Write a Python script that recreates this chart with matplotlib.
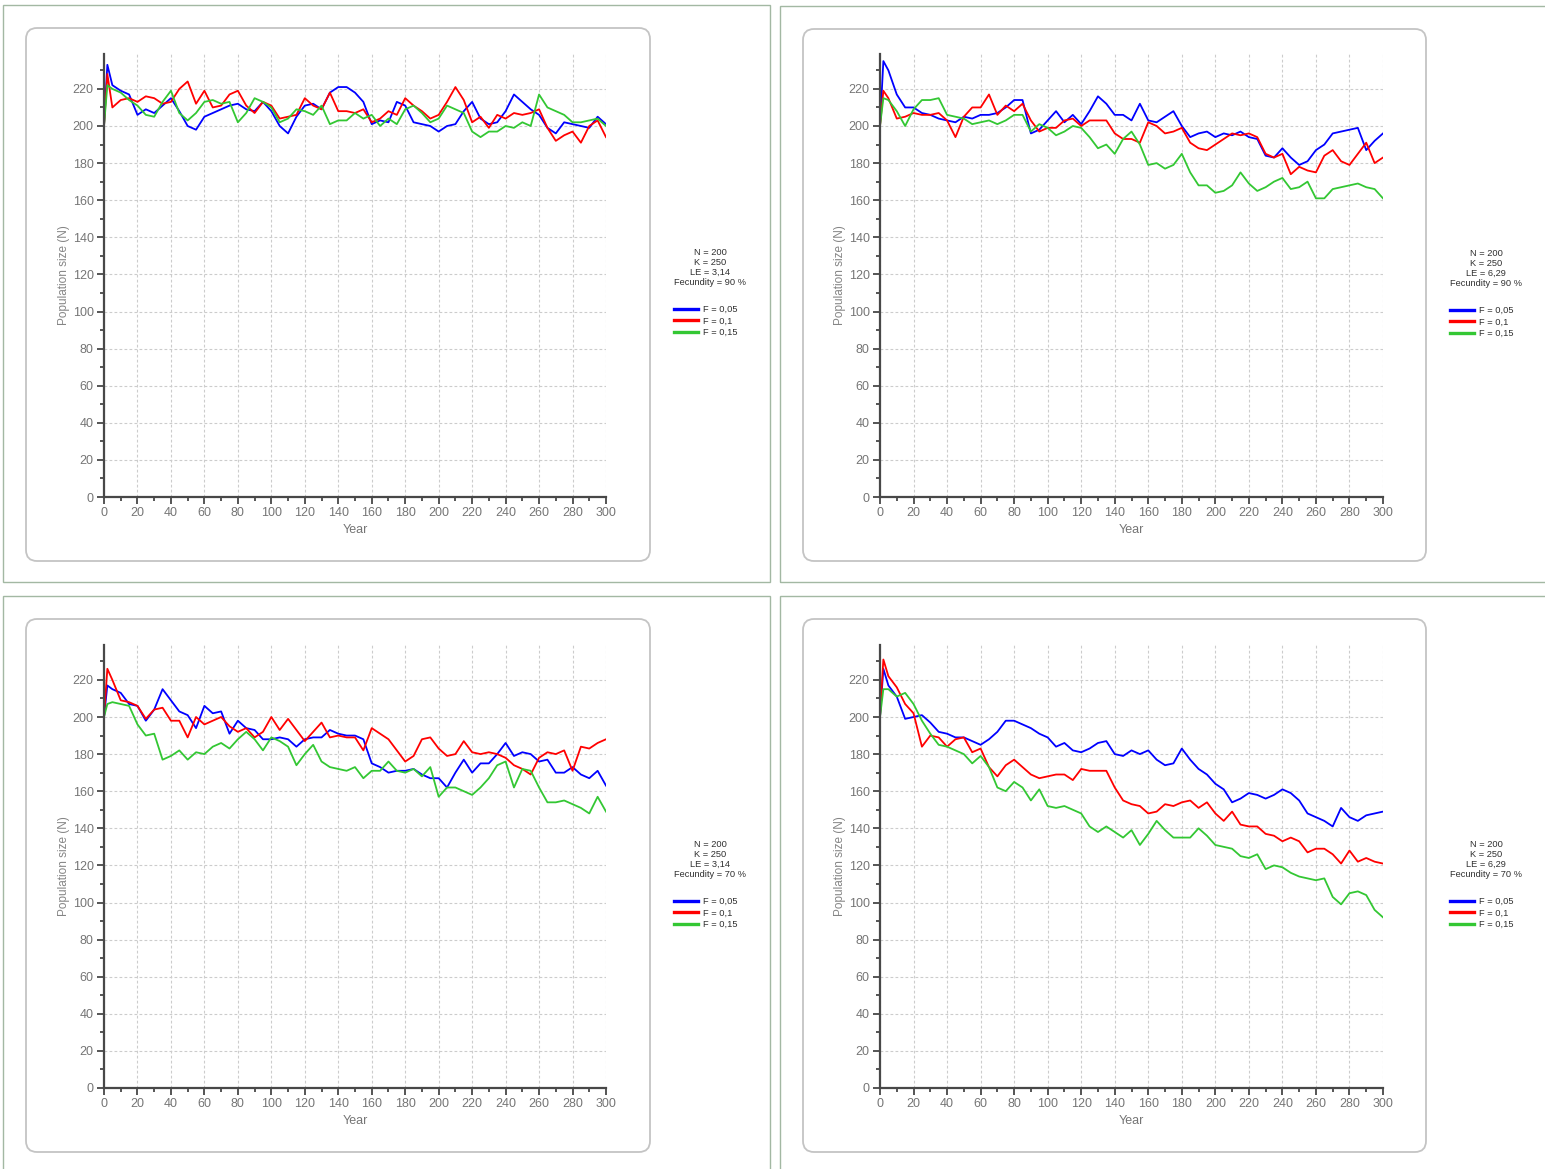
import matplotlib.pyplot as plt
from matplotlib.patches import Rectangle, FancyBboxPatch

plt.rcParams['font.family'] = ['Liberation Sans', 'DejaVu Sans']

years = [0, 2] + list(range(5, 305, 5))

# panel 1 : LE = 3,14, fecundity 90 %
tl_blue = [200, 233, 222, 219, 217, 206, 209, 207, 211, 215, 208, 200, 198, 205, 207, 209, 211, 212, 209, 208,
           213, 208, 200, 196, 205, 211, 212, 209, 218, 221, 221, 218, 213, 201, 203, 202, 213, 211, 202, 201,
           200, 197, 200, 201, 208, 213, 204, 201, 202, 208, 217, 213, 209, 206, 199, 196, 202, 201, 200, 199,
           205, 201]
tl_red = [200, 228, 210, 214, 215, 213, 216, 215, 212, 213, 220, 224, 212, 219, 210, 211, 217, 219, 211, 207,
          213, 211, 204, 205, 206, 215, 211, 209, 218, 208, 208, 207, 209, 202, 204, 208, 206, 215, 211, 208,
          204, 206, 213, 221, 214, 202, 205, 199, 206, 204, 207, 206, 207, 209, 199, 192, 195, 197, 191, 200,
          203, 194]
tl_green = [200, 222, 220, 218, 214, 211, 206, 205, 213, 219, 207, 203, 207, 213, 214, 212, 213, 202, 207, 215,
            213, 210, 202, 204, 209, 208, 206, 211, 201, 203, 203, 207, 204, 206, 200, 204, 201, 209, 211, 207,
            202, 204, 211, 209, 207, 197, 194, 197, 197, 200, 199, 202, 200, 217, 210, 208, 206, 202, 202, 203,
            204, 200]

# panel 2 : LE = 6,29, fecundity 90 %
tr_blue = [200, 235, 230, 217, 210, 210, 207, 206, 204, 203, 202, 205, 204, 206, 206, 207, 210, 214, 214, 196,
           198, 203, 208, 202, 206, 201, 208, 216, 212, 206, 206, 203, 212, 203, 202, 205, 208, 200, 194, 196,
           197, 194, 196, 195, 197, 194, 193, 184, 183, 188, 183, 179, 181, 187, 190, 196, 197, 198, 199, 187,
           192, 196]
tr_red = [200, 219, 215, 204, 205, 207, 206, 206, 207, 203, 194, 205, 210, 210, 217, 206, 211, 208, 212, 203,
          197, 199, 199, 203, 204, 200, 203, 203, 203, 196, 193, 193, 191, 202, 200, 196, 197, 199, 191, 188,
          187, 190, 193, 196, 195, 196, 194, 185, 183, 185, 174, 178, 176, 175, 184, 187, 181, 179, 185, 191,
          180, 183]
tr_green = [200, 215, 214, 208, 200, 209, 214, 214, 215, 206, 205, 204, 201, 202, 203, 201, 203, 206, 206, 197,
            201, 199, 195, 197, 200, 199, 194, 188, 190, 185, 193, 197, 190, 179, 180, 177, 179, 185, 175, 168,
            168, 164, 165, 168, 175, 169, 165, 167, 170, 172, 166, 167, 170, 161, 161, 166, 167, 168, 169, 167,
            166, 161]

# panel 3 : LE = 3,14, fecundity 70 %
bl_blue = [200, 217, 215, 213, 207, 206, 198, 204, 215, 209, 203, 201, 194, 206, 202, 203, 191, 198, 194, 193,
           188, 188, 189, 188, 184, 188, 189, 189, 193, 191, 190, 190, 188, 175, 173, 170, 171, 171, 172, 169,
           167, 167, 162, 170, 177, 170, 175, 175, 180, 186, 179, 181, 180, 176, 177, 170, 170, 173, 169, 167,
           171, 163]
bl_red = [200, 226, 220, 209, 208, 206, 199, 204, 205, 198, 198, 189, 200, 196, 198, 200, 195, 192, 194, 189,
          192, 200, 193, 199, 193, 187, 192, 197, 189, 190, 189, 189, 182, 194, 191, 188, 182, 176, 179, 188,
          189, 183, 179, 180, 187, 181, 180, 181, 180, 178, 174, 172, 169, 178, 181, 180, 182, 171, 184, 183,
          186, 188]
bl_green = [200, 207, 208, 207, 206, 196, 190, 191, 177, 179, 182, 177, 181, 180, 184, 186, 183, 188, 192, 188,
            182, 189, 187, 184, 174, 180, 185, 176, 173, 172, 171, 173, 167, 171, 171, 176, 171, 170, 172, 168,
            173, 157, 162, 162, 160, 158, 162, 167, 174, 176, 162, 172, 171, 162, 154, 154, 155, 153, 151, 148,
            157, 149]

# panel 4 : LE = 6,29, fecundity 70 %
br_blue = [200, 226, 217, 211, 199, 200, 201, 197, 192, 191, 189, 189, 187, 185, 188, 192, 198, 198, 196, 194,
           191, 189, 184, 186, 182, 181, 183, 186, 187, 180, 179, 182, 180, 182, 177, 174, 175, 183, 177, 172,
           169, 164, 161, 154, 156, 159, 158, 156, 158, 161, 159, 155, 148, 146, 144, 141, 151, 146, 144, 147,
           148, 149]
br_red = [200, 231, 222, 216, 207, 202, 184, 190, 189, 184, 188, 189, 181, 183, 173, 168, 174, 177, 173, 169,
          167, 168, 169, 169, 166, 172, 171, 171, 171, 162, 155, 153, 152, 148, 149, 153, 152, 154, 155, 151,
          154, 148, 144, 149, 142, 141, 141, 137, 136, 133, 135, 133, 127, 129, 129, 126, 121, 128, 122, 124,
          122, 121]
br_green = [200, 215, 215, 211, 213, 207, 198, 191, 185, 184, 182, 180, 175, 179, 173, 162, 160, 165, 162, 155,
            161, 152, 151, 152, 150, 148, 141, 138, 141, 138, 135, 139, 131, 137, 144, 139, 135, 135, 135, 140,
            136, 131, 130, 129, 125, 124, 126, 118, 120, 119, 116, 114, 113, 112, 113, 103, 99, 105, 106, 104,
            96, 92]

series_labels = ["F = 0,05", "F = 0,1", "F = 0,15"]
info_texts = ["N = 200\nK = 250\nLE = 3,14\nFecundity = 90 %",
              "N = 200\nK = 250\nLE = 6,29\nFecundity = 90 %",
              "N = 200\nK = 250\nLE = 3,14\nFecundity = 70 %",
              "N = 200\nK = 250\nLE = 6,29\nFecundity = 70 %"]
panel_data = [(tl_blue, tl_red, tl_green), (tr_blue, tr_red, tr_green),
              (bl_blue, bl_red, bl_green), (br_blue, br_red, br_green)]

W, H = 1545, 1169
fig = plt.figure(figsize=(W / 100, H / 100), dpi=100)
fig.patch.set_facecolor("white")
inch = fig.dpi_scale_trans

def px_rect(x0, y0, x1, y1):
    # pixel box (top-left origin) -> inches
    return x0 / 100, (H - y1) / 100, (x1 - x0) / 100, (y1 - y0) / 100

# outer frames
for (x0, y0, x1, y1) in [(3, 5, 770, 582), (780, 6, 1560, 582), (3, 596, 770, 1180), (780, 596, 1560, 1180)]:
    x, y, w, h = px_rect(x0, y0, x1, y1)
    fig.add_artist(Rectangle((x, y), w, h, transform=inch, fill=False, ec="#a3b8a3", lw=1.0))

# rounded inner frames
for (x0, y0, x1, y1) in [(26, 28, 650, 561), (803, 29, 1426, 561), (26, 619, 650, 1152), (803, 619, 1426, 1152)]:
    x, y, w, h = px_rect(x0, y0, x1, y1)
    fig.add_artist(FancyBboxPatch((x, y), w, h, boxstyle="round,pad=0,rounding_size=0.11",
                                  transform=inch, fill=False, ec="#c4c4c4", lw=1.3))

axes_px = [(104, 606, 497), (880, 1383, 497), (104, 606, 1088), (880, 1383, 1088)]
legend_px = [(674, 710, 253), (1450, 1486, 254), (674, 710, 845), (1450, 1486, 845)]
colors = ["#0000ff", "#ff0000", "#33c733"]

for i in range(4):
    x0, x1, yb = axes_px[i]
    top = yb - 239 * 1.855
    ax = fig.add_axes([x0 / W, 1 - yb / H, (x1 - x0) / W, (yb - top) / H])
    for vals, c, lab in zip(panel_data[i], colors, series_labels):
        ax.plot(years, vals, color=c, lw=1.3, label=lab)
    ax.set_xlim(0, 300)
    ax.set_ylim(0, 239)
    ax.set_xticks(range(0, 301, 20))
    ax.set_xticks(range(0, 301, 10), minor=True)
    ax.set_yticks(range(0, 221, 20))
    ax.set_yticks(range(0, 240, 10), minor=True)
    ax.grid(True, which="major", color="#cccccc", ls=(0, (2.5, 2)), lw=0.8)
    for s in ["top", "right"]:
        ax.spines[s].set_visible(False)
    for s in ["left", "bottom"]:
        ax.spines[s].set_color("#484848")
        ax.spines[s].set_linewidth(1.6)
    ax.tick_params(which="major", length=5, width=1.3, color="#484848", labelsize=9,
                   labelcolor="#757575", pad=2.5)
    ax.tick_params(which="minor", length=3, width=1.3, color="#484848")
    ax.set_xlabel("Year", fontsize=9, color="#757575", labelpad=3)
    ax.set_ylabel("Population size (N)", fontsize=8.5, color="#858585", labelpad=2)

    lx, cx, ty = legend_px[i]
    fig.text(cx / W, 1 - (ty - 5) / H, info_texts[i], ha="center", va="top", fontsize=6.7,
             color="#303030", linespacing=1.12)
    leg = ax.legend(loc="upper left", bbox_to_anchor=(lx / W, 1 - (ty + 52) / H), bbox_transform=fig.transFigure,
                    frameon=False, fontsize=6.7, handlelength=2.6, handletextpad=0.5, labelspacing=0.28,
                    borderpad=0, borderaxespad=0, labelcolor="#303030")
    for ln in leg.get_lines():
        ln.set_linewidth(2.4)

fig.savefig("out.png", dpi=100)
